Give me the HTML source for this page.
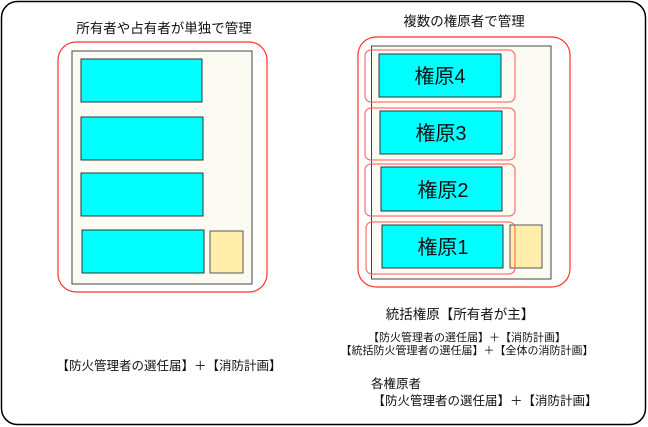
<!DOCTYPE html>
<html><head><meta charset="utf-8"><style>
html,body{margin:0;padding:0;background:#fff;}
svg{display:block;}
text{font-family:"Liberation Sans","Noto Sans CJK JP",sans-serif;fill:#111;}
</style></head><body>
<svg width="648" height="427" viewBox="0 0 648 427" xmlns="http://www.w3.org/2000/svg">
<rect x="1.5" y="1.5" width="644" height="423" rx="16" fill="#fff" stroke="#000" stroke-width="1.5"/>
<!-- left -->
<text x="164" y="33" font-size="13.5" text-anchor="middle">所有者や占有者が単独で管理</text>
<rect x="58" y="42" width="209" height="250" rx="18" fill="none" stroke="#f33" stroke-width="1.2"/>
<rect x="72" y="51" width="180" height="233" fill="#fbfbf3" stroke="#444" stroke-width="1"/>
<g fill="#00ffff" stroke="#333" stroke-width="1">
<rect x="81" y="59" width="121" height="43"/>
<rect x="81" y="117" width="122" height="43"/>
<rect x="81" y="173" width="122" height="43"/>
<rect x="82" y="230" width="122" height="43"/>
</g>
<rect x="210" y="231" width="33" height="42" fill="#ffeeaa" stroke="#555"/>
<text x="169" y="370" font-size="12.5" text-anchor="middle">【防火管理者の選任届】＋【消防計画】</text>
<!-- right -->
<text x="464" y="26" font-size="13.5" text-anchor="middle">複数の権原者で管理</text>
<rect x="358" y="37" width="212" height="250" rx="18" fill="none" stroke="#f33" stroke-width="1.2"/>
<rect x="371.5" y="46" width="179.5" height="233" fill="#fbfbf3" stroke="#444" stroke-width="1"/>
<g fill="#00ffff" stroke="#333" stroke-width="1">
<rect x="379" y="54" width="122" height="43"/>
<rect x="380" y="111" width="122" height="43"/>
<rect x="381" y="167" width="121" height="44"/>
<rect x="382" y="225" width="121" height="43"/>
</g>
<rect x="510" y="225" width="32" height="43" fill="#ffeeaa" stroke="#555"/>
<g fill="none" stroke="#f55" stroke-width="1">
<rect x="365" y="50" width="150" height="52" rx="6"/>
<rect x="365" y="108" width="150" height="52" rx="6"/>
<rect x="365" y="164" width="150" height="52" rx="6"/>
<rect x="366" y="222" width="149" height="52" rx="6"/>
</g>
<g font-size="20" text-anchor="middle">
<text x="440" y="83">権原4</text>
<text x="441" y="140">権原3</text>
<text x="443" y="197">権原2</text>
<text x="443" y="254">権原1</text>
</g>
<text x="460" y="319" font-size="13.5" text-anchor="middle">統括権原【所有者が主】</text>
<text x="467" y="341" font-size="11" text-anchor="middle">【防火管理者の選任届】＋【消防計画】</text>
<text x="467" y="354" font-size="11" text-anchor="middle">【統括防火管理者の選任届】＋【全体の消防計画】</text>
<text x="371" y="388" font-size="12.5">各権原者</text>
<text x="485" y="405" font-size="12.5" text-anchor="middle">【防火管理者の選任届】＋【消防計画】</text>
</svg>
</body></html>
